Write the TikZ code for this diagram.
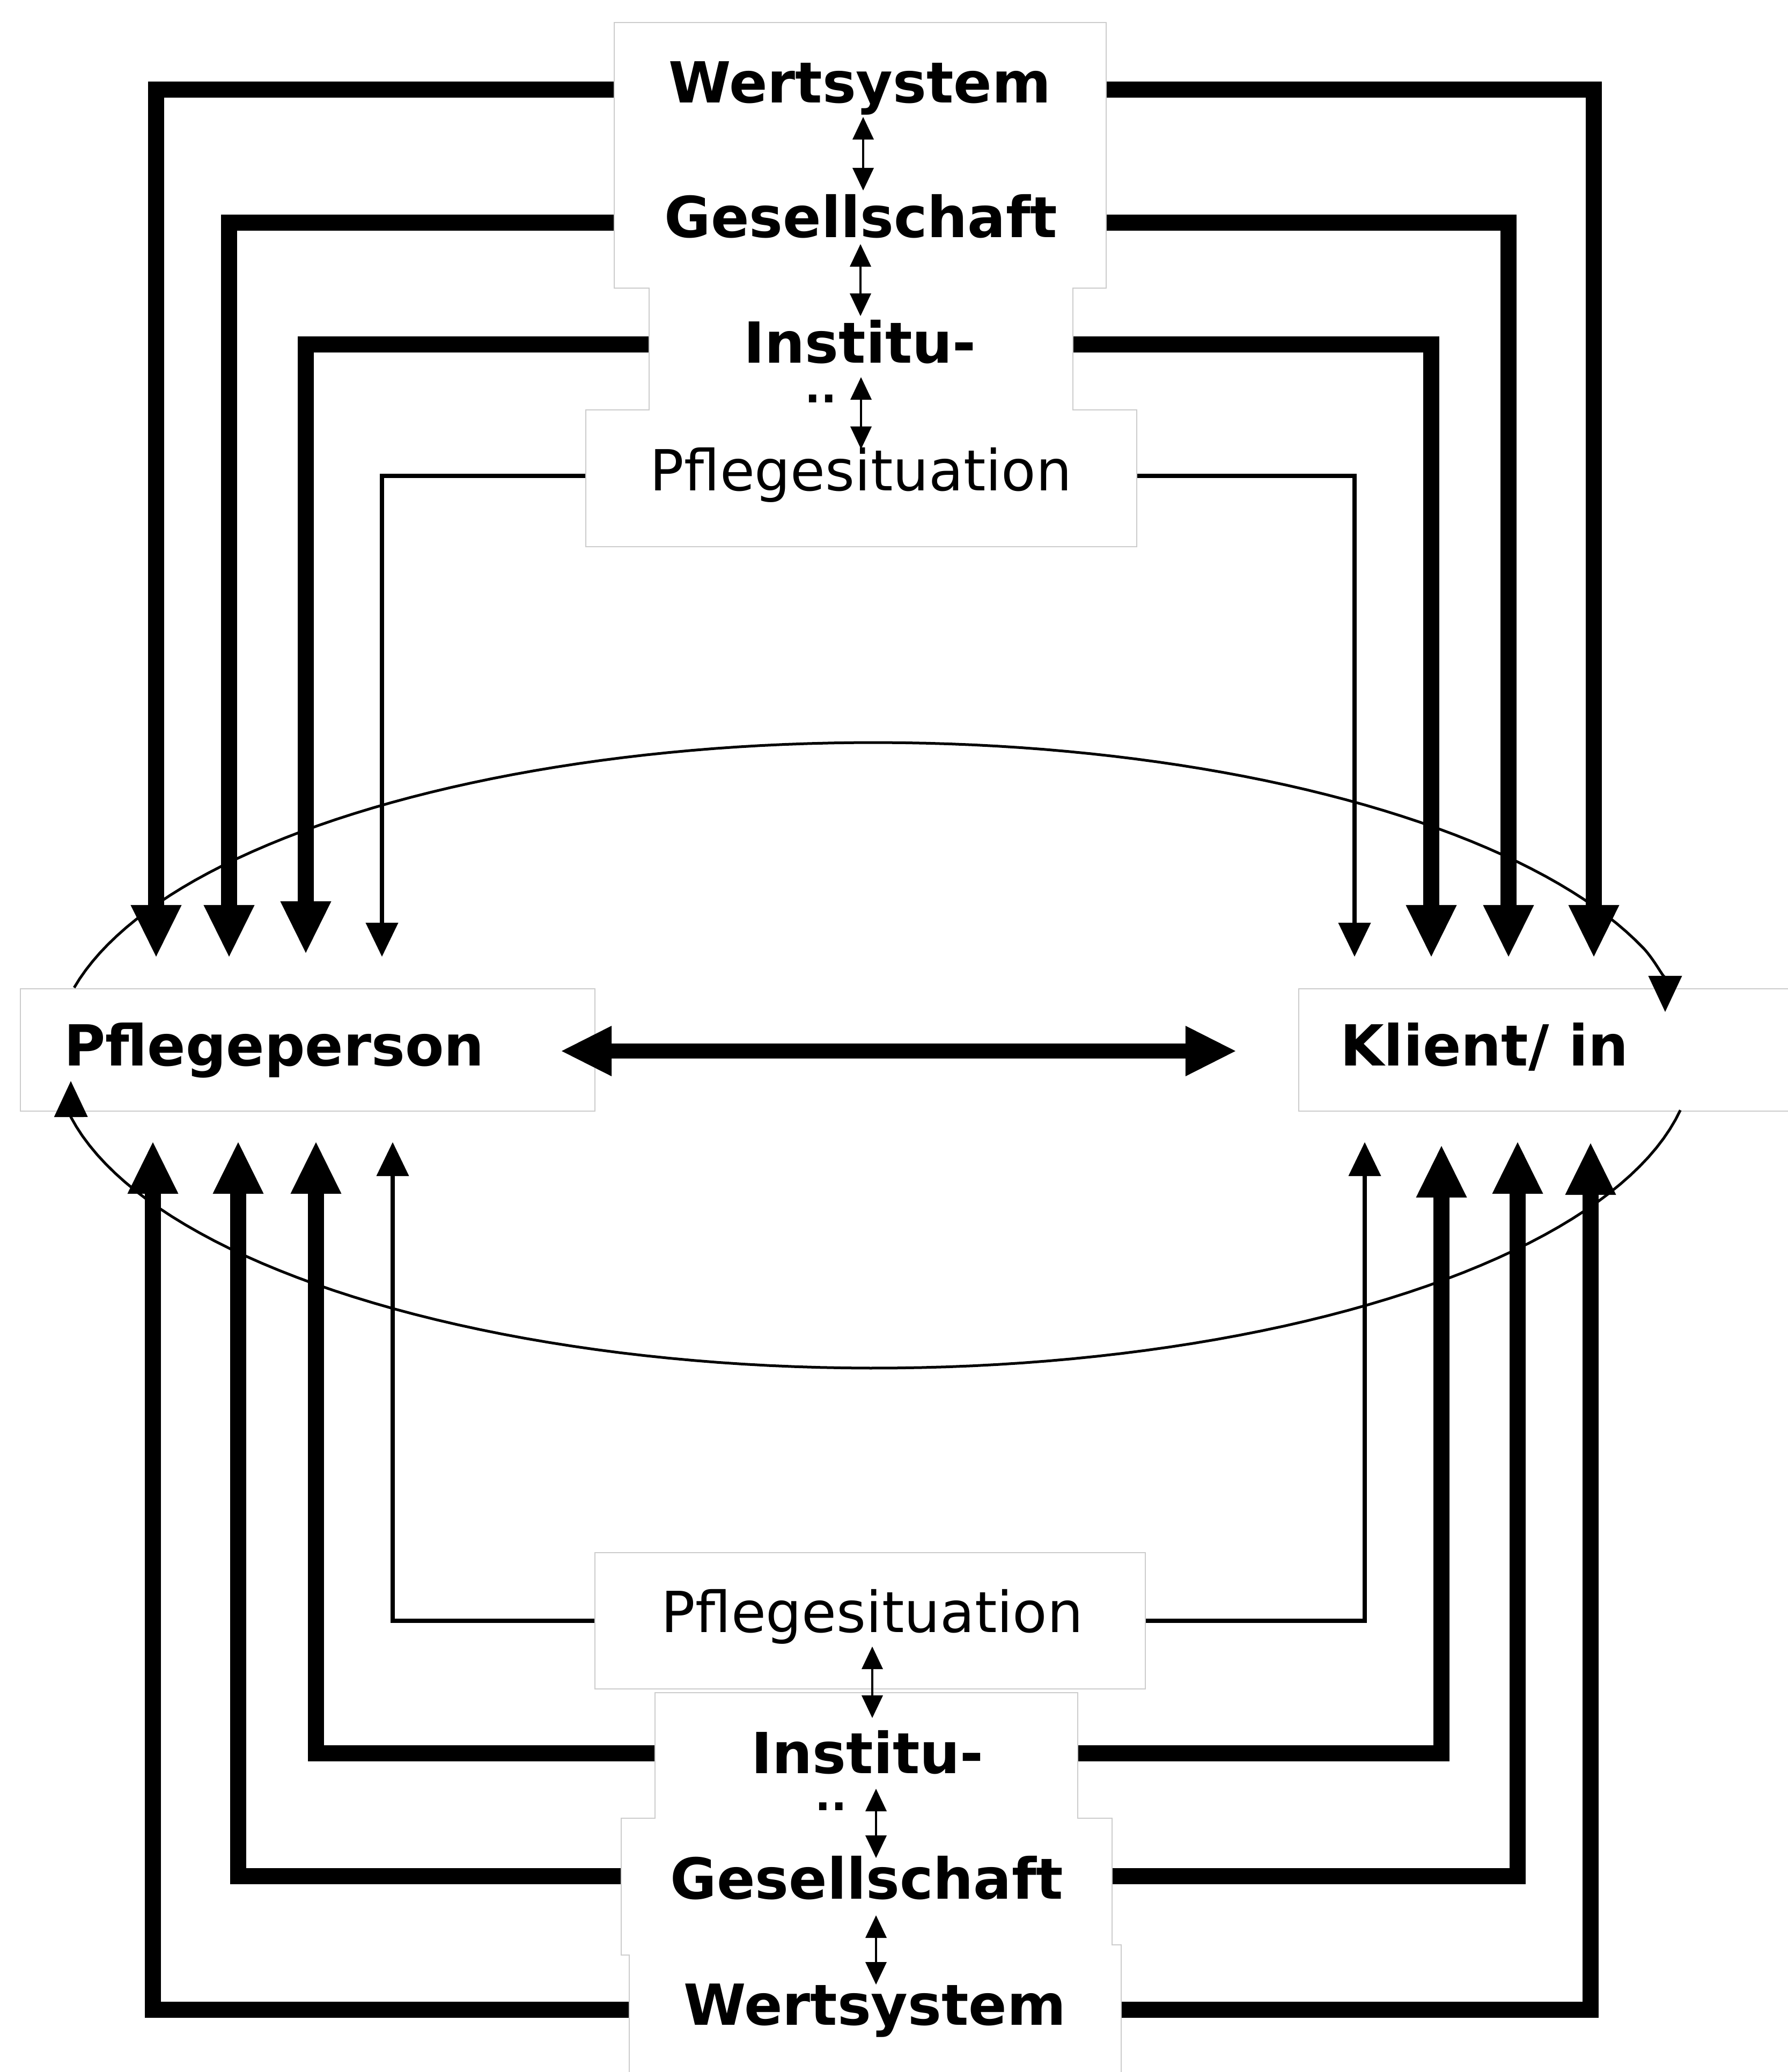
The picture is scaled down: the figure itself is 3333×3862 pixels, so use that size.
\documentclass[tikz,border=0pt]{standalone}
\usepackage{fontspec}
\setmainfont{DejaVu Sans}
\usetikzlibrary{arrows.meta}
\begin{document}
\begin{tikzpicture}[x=0.01cm,y=-0.01cm,
  boxline/.style={draw=black!20, fill=white, line width=0.6pt},
  boldlbl/.style={font=\fontsize{30}{36}\selectfont\bfseries, inner sep=0pt, anchor=base},
  plainlbl/.style={font=\fontsize{30}{36}\selectfont, inner sep=0pt, anchor=base},
  dotlbl/.style={font=\fontsize{22}{26}\selectfont\bfseries, inner sep=0pt, anchor=base},
  heavy/.style={line width=0.3cm, line join=miter, -{Triangle[width=0.95cm,length=0.96cm,line width=0pt]}},
  light/.style={line width=0.08cm, line join=miter, -{Triangle[width=0.61cm,length=0.63cm,line width=0pt]}},
  ellarrow/.style={line width=0.05cm, -{Triangle[width=0.63cm,length=0.67cm,line width=0pt]}},
  tiny/.style={line width=0.045cm, {Triangle[width=0.4cm,length=0.42cm,line width=0pt]}-{Triangle[width=0.4cm,length=0.42cm,line width=0pt]}},
  mid/.style={line width=0.28cm, {Triangle[width=0.94cm,length=0.93cm,line width=0pt]}-{Triangle[width=0.94cm,length=0.93cm,line width=0pt]}},
]
\useasboundingbox (0,0) rectangle (3333,3862);

% ---- main boxes
\node[boxline, minimum width=10.71cm, minimum height=2.28cm, inner sep=0pt] (ppbox) at (573.5,1957) {};
\node[boxline, minimum width=9.79cm, minimum height=2.28cm, inner sep=0pt] (klbox) at (2910.5,1957) {};
\node[boldlbl] (pp) at (511,1986) {Pflegeperson};
\node[boldlbl] (kl) at (2767,1986) {Klient/ in};

% ---- ellipse arcs
\coordinate (ellA) at (3104,1886);
\coordinate (ellB) at (132,2015);
\draw[ellarrow] plot[domain=167.5:20, samples=90] ({1629+1527*cos(\x)},{1967-583*sin(\x)})
  .. controls (3088,1794) and (3104,1830) .. (ellA);
\draw[ellarrow] plot[domain=-10.1:-168.6, samples=90] ({1629+1527*cos(\x)},{1967-583*sin(\x)}) -- (ellB);

% ---- central double arrow
\coordinate (hL) at (1047,1959);
\coordinate (hR) at (2303,1959);
\draw[mid] (hL) -- (hR);

% ---- arrow tips at Pflegeperson / Klient
\coordinate (pA1) at (291,1783); \coordinate (pA2) at (427,1783);
\coordinate (pA3) at (570,1776); \coordinate (pA4) at (712,1783);
\coordinate (kA1) at (2971,1783); \coordinate (kA2) at (2812,1783);
\coordinate (kA3) at (2668,1783); \coordinate (kA4) at (2525,1783);
\coordinate (pB1) at (285,2129); \coordinate (pB2) at (444,2129);
\coordinate (pB3) at (589,2129); \coordinate (pB4) at (732,2129);
\coordinate (kB1) at (2965,2131); \coordinate (kB2) at (2829,2129);
\coordinate (kB3) at (2687,2136); \coordinate (kB4) at (2544,2129);

% ---- start points at the group boxes
\coordinate (tWl) at (1145,167); \coordinate (tWr) at (2062,167);
\coordinate (tGl) at (1145,415); \coordinate (tGr) at (2062,415);
\coordinate (tIl) at (1210,642); \coordinate (tIr) at (2000,642);
\coordinate (tPl) at (1092,887); \coordinate (tPr) at (2119,887);
\coordinate (bWl) at (1173,3746); \coordinate (bWr) at (2090,3746);
\coordinate (bGl) at (1158,3497); \coordinate (bGr) at (2073,3497);
\coordinate (bIl) at (1221,3268); \coordinate (bIr) at (2009,3268);
\coordinate (bPl) at (1109,3021); \coordinate (bPr) at (2135,3021);

\draw[heavy] (tWl) -| (pA1);
\draw[heavy] (tGl) -| (pA2);
\draw[heavy] (tIl) -| (pA3);
\draw[light] (tPl) -| (pA4);
\draw[heavy] (tWr) -| (kA1);
\draw[heavy] (tGr) -| (kA2);
\draw[heavy] (tIr) -| (kA3);
\draw[light] (tPr) -| (kA4);
\draw[heavy] (bWl) -| (pB1);
\draw[heavy] (bGl) -| (pB2);
\draw[heavy] (bIl) -| (pB3);
\draw[light] (bPl) -| (pB4);
\draw[heavy] (bWr) -| (kB1);
\draw[heavy] (bGr) -| (kB2);
\draw[heavy] (bIr) -| (kB3);
\draw[light] (bPr) -| (kB4);

% ---- top group
\draw[boxline] (1145,42) -- (2062,42) -- (2062,537) -- (2000,537) -- (2000,764) -- (2119,764)
  -- (2119,1019) -- (1092,1019) -- (1092,764) -- (1210,764) -- (1210,537) -- (1145,537) -- cycle;
\node[boldlbl] (tw) at (1603,191) {Wertsystem};
\node[boldlbl] (tg) at (1605,442) {Gesellschaft};
\node[boldlbl] (ti) at (1603,676) {Institu-};
\node[dotlbl] (tdots) at (1530,750) {..};
\node[plainlbl] (tp) at (1605,914) {Pflegesituation};
\coordinate (ta1) at (1609,218); \coordinate (ta2) at (1609,355);
\coordinate (ta3) at (1604,455); \coordinate (ta4) at (1604,589);
\coordinate (ta5) at (1605,703); \coordinate (ta6) at (1605,837);
\draw[tiny] (ta1) -- (ta2);
\draw[tiny] (ta3) -- (ta4);
\draw[tiny] (ta5) -- (ta6);

% ---- bottom group
\draw[boxline] (1109,2894) rectangle (2135,3148);
\draw[boxline] (1221,3155) -- (2009,3155) -- (2009,3389) -- (2073,3389) -- (2073,3625) -- (2090,3625)
  -- (2090,3900) -- (1173,3900) -- (1173,3644) -- (1158,3644) -- (1158,3389) -- (1221,3389) -- cycle;
\node[plainlbl] (bp) at (1626,3042) {Pflegesituation};
\node[boldlbl] (bi) at (1617,3305) {Institu-};
\node[dotlbl] (bdots) at (1549,3374) {..};
\node[boldlbl] (bg) at (1616,3539) {Gesellschaft};
\node[boldlbl] (bw) at (1631,3774) {Wertsystem};
\coordinate (ba1) at (1626,3069); \coordinate (ba2) at (1626,3202);
\coordinate (ba3) at (1633,3334); \coordinate (ba4) at (1633,3463);
\coordinate (ba5) at (1633,3570); \coordinate (ba6) at (1633,3699);
\draw[tiny] (ba1) -- (ba2);
\draw[tiny] (ba3) -- (ba4);
\draw[tiny] (ba5) -- (ba6);
\end{tikzpicture}
\end{document}
